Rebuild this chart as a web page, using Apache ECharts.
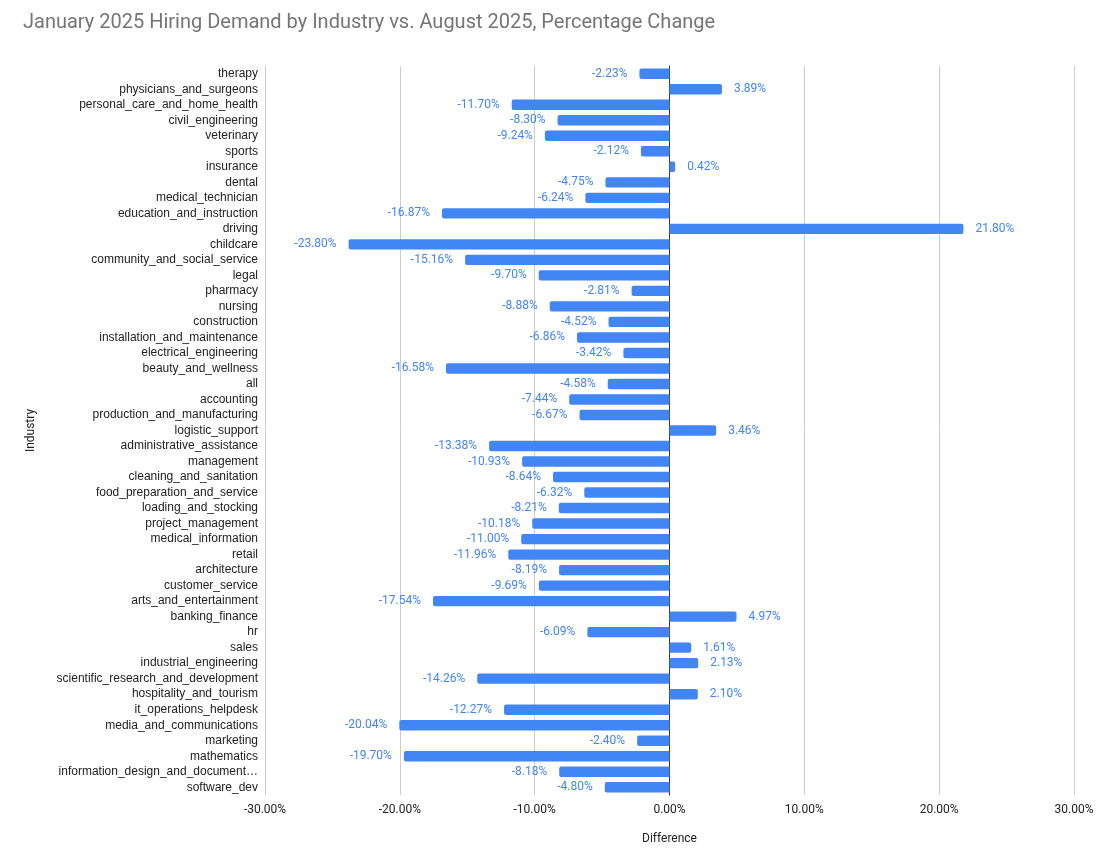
<!DOCTYPE html>
<html>
<head>
    <meta charset="utf-8" />
    <script src="https://cdn.jsdelivr.net/npm/echarts@6/dist/echarts.min.js"></script>
    <title>hiring_demand</title>
    <style>
        body { margin: 0; background: #fff; }
    </style>
</head>
<body>
<div id="main" style="width:1109px; height:854px;"></div>
<script type="text/javascript">
    // top to bottom as in the chart
    const industries = [
        'therapy', 'physicians_and_surgeons', 'personal_care_and_home_health', 'civil_engineering',
        'veterinary', 'sports', 'insurance', 'dental', 'medical_technician', 'education_and_instruction',
        'driving', 'childcare', 'community_and_social_service', 'legal', 'pharmacy', 'nursing',
        'construction', 'installation_and_maintenance', 'electrical_engineering', 'beauty_and_wellness',
        'all', 'accounting', 'production_and_manufacturing', 'logistic_support', 'administrative_assistance',
        'management', 'cleaning_and_sanitation', 'food_preparation_and_service', 'loading_and_stocking',
        'project_management', 'medical_information', 'retail', 'architecture', 'customer_service',
        'arts_and_entertainment', 'banking_finance', 'hr', 'sales', 'industrial_engineering',
        'scientific_research_and_development', 'hospitality_and_tourism', 'it_operations_helpdesk',
        'media_and_communications', 'marketing', 'mathematics', 'information_design_and_document…',
        'software_dev'
    ];
    const differences = [
        -2.23, 3.89, -11.70, -8.30,
        -9.24, -2.12, 0.42, -4.75, -6.24, -16.87,
        21.80, -23.80, -15.16, -9.70, -2.81, -8.88,
        -4.52, -6.86, -3.42, -16.58,
        -4.58, -7.44, -6.67, 3.46, -13.38,
        -10.93, -8.64, -6.32, -8.21,
        -10.18, -11.00, -11.96, -8.19, -9.69,
        -17.54, 4.97, -6.09, 1.61, 2.13,
        -14.26, 2.10, -12.27,
        -20.04, -2.40, -19.70, -8.18,
        -4.80
    ];
    const xTicks = [-30, -20, -10, 0, 10, 20, 30];

    const blue = '#4285f4';
    let myChart = echarts.init(document.getElementById('main'));

    let barData = differences.map(function (v) {
        return {
            value: v,
            itemStyle: { borderRadius: v < 0 ? [2, 0, 0, 2] : [0, 2, 2, 0] },
            label: { position: v < 0 ? 'left' : 'right' }
        };
    });

    let option = {
        animation: false,
        backgroundColor: '#fff',
        textStyle: { fontFamily: 'Roboto, Arial, sans-serif' },
        title: {
            text: 'January 2025 Hiring Demand by Industry vs. August 2025, Percentage Change',
            left: 18,
            top: 8,
            textStyle: {
                fontFamily: 'Roboto, Arial, sans-serif',
                fontSize: 20,
                fontWeight: 'normal',
                color: '#757575'
            }
        },
        grid: {
            left: 265,
            right: 35,
            top: 66,
            bottom: 59,
            containLabel: false
        },
        xAxis: {
            type: 'value',
            min: xTicks[0],
            max: xTicks[xTicks.length - 1],
            interval: 10,
            name: 'Difference',
            nameLocation: 'middle',
            nameGap: 38,
            nameTextStyle: { color: '#222', fontSize: 12, fontFamily: 'Roboto, Arial, sans-serif' },
            axisLine: { show: false },
            axisTick: { show: false },
            axisLabel: {
                color: '#222',
                fontSize: 12,
                margin: 9,
                fontFamily: 'Roboto, Arial, sans-serif',
                formatter: function (v) { return v.toFixed(2) + '%'; }
            },
            splitLine: { show: true, lineStyle: { color: '#cccccc', width: 1 } }
        },
        yAxis: {
            type: 'category',
            data: industries,
            inverse: true,
            name: 'Industry',
            nameLocation: 'middle',
            nameGap: 228,
            nameRotate: 90,
            nameTextStyle: { color: '#222', fontSize: 12, fontFamily: 'Roboto, Arial, sans-serif' },
            axisLine: { show: true, onZero: true, lineStyle: { color: '#333', width: 1 } },
            axisTick: { show: false },
            axisLabel: {
                color: '#222',
                fontSize: 12,
                margin: 7,
                fontFamily: '"Liberation Sans", Arial, sans-serif',
                interval: 0
            }
        },
        series: [{
            type: 'bar',
            data: barData,
            barCategoryGap: '33%',
            itemStyle: { color: blue },
            label: {
                show: true,
                distance: 12,
                color: blue,
                fontSize: 12,
                fontFamily: 'Roboto, Arial, sans-serif',
                formatter: function (p) { return p.value.toFixed(2) + '%'; }
            }
        }]
    };
    myChart.setOption(option);
</script>
</body>
</html>
